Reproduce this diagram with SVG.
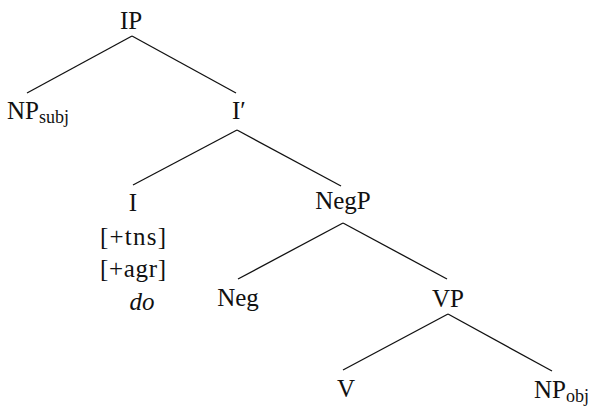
<svg xmlns="http://www.w3.org/2000/svg" width="594" height="406" viewBox="0 0 594 406">
<style>
text{font-family:"Liberation Serif","Times New Roman",serif;font-size:25px;fill:#111}
.sub{font-size:18px}
.it{font-style:italic}
line{stroke:#111;stroke-width:1.3}
</style>
<rect width="594" height="406" fill="#fff"/>
<g id="connectors">
<line x1="132" y1="36" x2="27" y2="93"/>
<line x1="132" y1="36" x2="236" y2="93"/>
<line x1="237" y1="130" x2="133" y2="185"/>
<line x1="237" y1="130" x2="341" y2="186"/>
<line x1="343" y1="223" x2="238" y2="279"/>
<line x1="343" y1="223" x2="447" y2="279"/>
<line x1="448" y1="314" x2="343" y2="370"/>
<line x1="448" y1="314" x2="552" y2="371"/>
</g>
<g id="IP"><text x="131" y="29" text-anchor="middle">IP</text></g>
<g id="NPsubj"><text x="7" y="119">NP<tspan class="sub" dy="4">subj</tspan></text></g>
<g id="Ibar"><text x="232" y="119">I′</text></g>
<g id="I">
<text x="133" y="211" text-anchor="middle">I</text>
<text x="100" y="245" textLength="66" lengthAdjust="spacing">[+tns]</text>
<text x="100" y="277" textLength="66" lengthAdjust="spacing">[+agr]</text>
<text x="142" y="310" text-anchor="middle" class="it">do</text>
</g>
<g id="NegP"><text x="343" y="209" text-anchor="middle">NegP</text></g>
<g id="Neg"><text x="238" y="306" text-anchor="middle">Neg</text></g>
<g id="VP"><text x="448" y="307" text-anchor="middle">VP</text></g>
<g id="V"><text x="346" y="397" text-anchor="middle">V</text></g>
<g id="NPobj"><text x="534" y="398">NP<tspan class="sub" dy="4">obj</tspan></text></g>
</svg>
